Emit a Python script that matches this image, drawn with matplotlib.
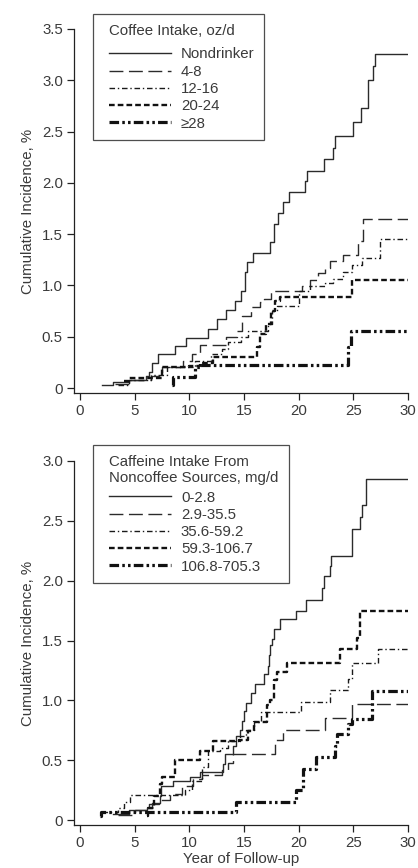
import matplotlib
matplotlib.use("Agg")
import matplotlib.pyplot as plt
from matplotlib.offsetbox import HPacker, VPacker, DrawingArea

plt.rcParams['font.family'] = ['Liberation Sans', 'DejaVu Sans']

# follow-up ends at year 30
end_year = 30

# --- top panel: coffee intake, oz/d ---
coffee_labels = ["Nondrinker", "4-8", "12-16", "20-24", "\u226528"]
nondrinker_t = [2.0, 3.0, 4.5, 6.0, 6.3, 6.6, 7.1, 8.7, 9.7, 11.7, 12.5, 13.4, 14.2, 14.7, 15.1, 15.3, 15.8,
                17.4, 17.7, 18.1, 18.6, 19.1, 20.6, 20.8, 22.3, 23.1, 23.3, 25.0, 25.7, 26.3, 26.8, 27.0]
nondrinker_v = [0.03, 0.06, 0.08, 0.12, 0.16, 0.24, 0.33, 0.41, 0.49, 0.58, 0.67, 0.76, 0.85, 0.95, 1.13, 1.23, 1.32,
                1.42, 1.60, 1.71, 1.81, 1.91, 2.02, 2.12, 2.23, 2.34, 2.46, 2.59, 2.73, 3.00, 3.14, 3.26]
c48_t = [3.2, 4.5, 6.5, 7.5, 9.4, 10.2, 11.0, 13.4, 14.4, 14.85, 15.6, 16.5, 16.8, 17.5, 20.3, 21.0, 21.8,
         22.4, 22.9, 24.1, 25.4, 25.9]
c48_v = [0.04, 0.08, 0.12, 0.20, 0.26, 0.33, 0.42, 0.50, 0.56, 0.70, 0.79, 0.84, 0.87, 0.95, 0.99, 1.05, 1.12,
         1.17, 1.24, 1.30, 1.43, 1.65]
c1216_t = [3.5, 4.5, 6.5, 8.0, 10.5, 12.0, 13.0, 13.5, 14.7, 15.4, 17.2, 17.6, 18.0, 18.9, 20.0, 21.0, 22.4,
           23.1, 24.1, 24.9, 25.8, 27.4]
c1216_v = [0.03, 0.08, 0.13, 0.20, 0.26, 0.33, 0.38, 0.45, 0.50, 0.56, 0.62, 0.75, 0.80, 0.80, 0.95, 0.99, 1.02,
           1.06, 1.13, 1.20, 1.27, 1.45]
c2024_t = [4.0, 4.5, 7.5, 10.0, 11.0, 12.2, 16.2, 16.5, 17.0, 17.5, 17.8, 18.3, 24.9]
c2024_v = [0.07, 0.10, 0.20, 0.21, 0.24, 0.30, 0.40, 0.53, 0.62, 0.75, 0.85, 0.89, 1.05]
c28_t = [8.4, 8.5, 10.5, 11.0, 24.5, 24.8]
c28_v = [0.03, 0.11, 0.20, 0.22, 0.40, 0.56]

# --- bottom panel: caffeine from noncoffee sources, mg/d ---
caff_labels = ["0-2.8", "2.9-35.5", "35.6-59.2", "59.3-106.7", "106.8-705.3"]
k1_t = [3.0, 4.5, 6.1, 6.6, 7.3, 7.4, 8.5, 10.1, 11.0, 13.1, 13.3, 14.0, 14.3, 14.6, 14.8, 15.0, 15.2, 15.6,
        16.0, 16.8, 17.2, 17.3, 17.4, 17.6, 17.7, 18.3, 19.8, 20.7, 22.1, 22.3, 22.9, 23.0, 24.9, 25.6, 25.8, 26.2]
k1_v = [0.05, 0.08, 0.10, 0.14, 0.20, 0.28, 0.33, 0.36, 0.40, 0.47, 0.55, 0.62, 0.70, 0.75, 0.83, 0.91, 0.98, 1.06,
        1.14, 1.22, 1.29, 1.38, 1.46, 1.51, 1.60, 1.68, 1.75, 1.84, 1.94, 2.04, 2.12, 2.21, 2.43, 2.53, 2.63, 2.85]
k2_t = [3.5, 5.0, 6.3, 7.2, 8.2, 9.3, 10.3, 11.2, 13.0, 13.5, 14.0, 17.8, 18.6, 22.4, 24.9]
k2_v = [0.04, 0.08, 0.13, 0.17, 0.22, 0.28, 0.34, 0.38, 0.42, 0.48, 0.55, 0.67, 0.75, 0.85, 0.97]
k3_t = [2.0, 3.5, 4.0, 4.6, 9.6, 10.2, 11.2, 11.7, 12.8, 13.5, 14.6, 15.2, 15.9, 16.6, 20.2, 22.9, 24.5,
        24.85, 27.3]
k3_v = [0.07, 0.10, 0.15, 0.21, 0.25, 0.33, 0.44, 0.58, 0.60, 0.66, 0.70, 0.75, 0.82, 0.90, 0.99, 1.09, 1.18,
        1.31, 1.43]
k4_t = [6.1, 6.2, 6.8, 7.3, 7.5, 8.7, 11.0, 12.2, 14.5, 15.4, 15.9, 17.1, 17.4, 17.7, 18.0, 18.9, 23.8,
        25.3, 25.6]
k4_v = [0.03, 0.10, 0.20, 0.30, 0.36, 0.50, 0.58, 0.66, 0.67, 0.74, 0.82, 0.96, 1.00, 1.17, 1.24, 1.31, 1.43,
        1.52, 1.75]
k5_t = [1.8, 1.9, 14.3, 19.8, 20.4, 21.6, 23.3, 23.5, 24.5, 24.85, 26.7]
k5_v = [0.03, 0.07, 0.15, 0.25, 0.43, 0.53, 0.62, 0.72, 0.80, 0.84, 1.08]

styles = [
    dict(color="#2b2b2b", lw=1.0, ls="-"),
    dict(color="#2b2b2b", lw=1.0, dashes=(10, 4)),
    dict(color="#1a1a1a", lw=1.0, dashes=(4, 2, 1, 2)),
    dict(color="#111111", lw=1.7, dashes=(2.4, 1.3)),
    dict(color="#111111", lw=2.3, dashes=(3, 1, 0.8, 1, 0.8, 1)),
]

text_color = "#3a3a3a"
fs = 10.8

fig = plt.figure(figsize=(4.18, 8.68), dpi=100)
ax1 = fig.add_axes([0.177, 0.5472, 0.799, 0.4194])
ax2 = fig.add_axes([0.177, 0.0495, 0.799, 0.4194])


def draw(ax, series, labels, ymax, ybot, yticks):
    for (t, v), lab, st in zip(series, labels, styles):
        ax.step(list(t) + [end_year], list(v) + [v[-1]], where="post", label=lab, **st)
    ax.set_xlim(-0.55, end_year)
    ax.set_ylim(ybot, ymax)
    ax.set_xticks(range(0, 31, 5))
    ax.set_yticks(yticks)
    ax.set_yticklabels(["0" if y == 0 else f"{y:.1f}" for y in yticks])
    for s in ["top", "right"]:
        ax.spines[s].set_visible(False)
    for s in ["left", "bottom"]:
        ax.spines[s].set_linewidth(0.9)
        ax.spines[s].set_color("#222222")
    ax.tick_params(direction="out", length=5, width=0.9, labelsize=fs,
                   labelcolor=text_color, color="#222222", pad=3)
    ax.set_ylabel("Cumulative Incidence, %", fontsize=fs, color=text_color, labelpad=5)


def make_legend(ax, title, anchor_px, title_sep):
    leg = ax.legend(title=title, loc="upper left", bbox_to_anchor=(anchor_px[0] / 418, 1 - anchor_px[1] / 868),
                    bbox_transform=fig.transFigure, fontsize=fs, title_fontsize=fs,
                    frameon=True, fancybox=False, handlelength=4.1, handletextpad=0.67,
                    labelspacing=0.22, borderpad=0.65, borderaxespad=0)
    # wider left padding and larger gap below the title than Legend allows
    inner = VPacker(pad=0, sep=title_sep, align="left",
                    children=[leg._legend_title_box, leg._legend_handle_box])
    box = HPacker(pad=leg.borderpad * leg._fontsize, sep=0, align="top",
                  children=[DrawingArea(4.8, 0), inner])
    box.set_figure(fig)
    box.axes = ax
    box.set_offset(leg._findoffset)
    leg._legend_box = box
    leg.get_frame().set_edgecolor("#222222")
    leg.get_frame().set_linewidth(0.9)
    leg.get_title().set_color(text_color)
    for txt in leg.get_texts():
        txt.set_color(text_color)
    return leg


draw(ax1, [(nondrinker_t, nondrinker_v), (c48_t, c48_v), (c1216_t, c1216_v), (c2024_t, c2024_v), (c28_t, c28_v)],
     coffee_labels, 3.5, -0.049, [0, 0.5, 1.0, 1.5, 2.0, 2.5, 3.0, 3.5])
draw(ax2, [(k1_t, k1_v), (k2_t, k2_v), (k3_t, k3_v), (k4_t, k4_v), (k5_t, k5_v)],
     caff_labels, 3.0, -0.042, [0, 0.5, 1.0, 1.5, 2.0, 2.5, 3.0])
ax2.set_xlabel("Year of Follow-up", fontsize=fs, color=text_color, labelpad=1)

make_legend(ax1, "Coffee Intake, oz/d", (93, 14), 7)
make_legend(ax2, "Caffeine Intake From\nNoncoffee Sources, mg/d", (93, 445), 4)

fig.savefig("out.png", dpi=100)
